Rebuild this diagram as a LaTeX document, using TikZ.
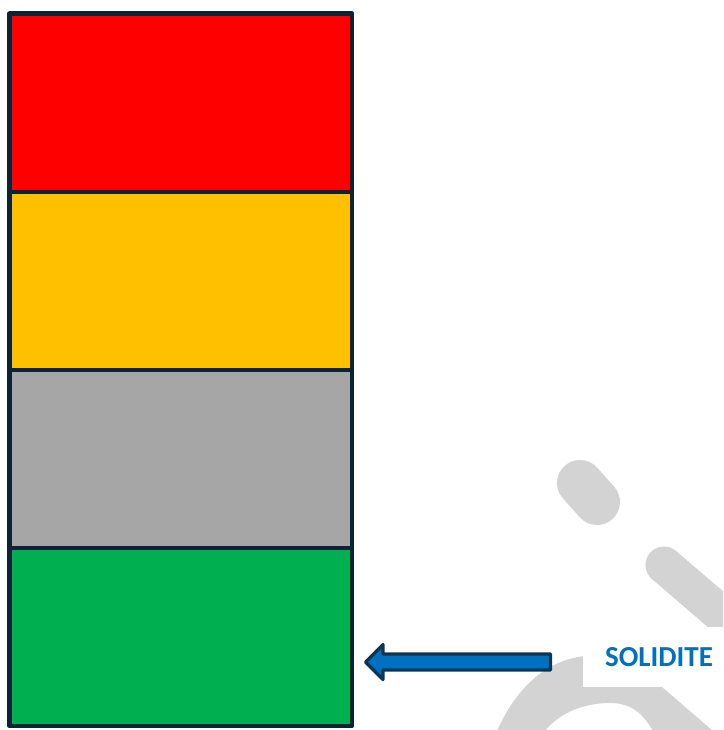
\documentclass[tikz,border=0pt]{standalone}
\usepackage{fontspec}
\newfontfamily\carlito{Carlito}
\definecolor{boxred}{HTML}{FF0000}
\definecolor{boxorange}{HTML}{FFC000}
\definecolor{boxgray}{HTML}{A6A6A6}
\definecolor{boxgreen}{HTML}{00B050}
\definecolor{edgenavy}{HTML}{0C2235}
\definecolor{arrowblue}{HTML}{0070C0}
\definecolor{arrowedge}{HTML}{0B3552}
\definecolor{wmgray}{HTML}{D3D3D3}
\begin{document}
\begin{tikzpicture}[x=1pt,y=-1pt,
  levelbox/.style={draw=edgenavy,line width=4.6pt,line join=round,minimum width=342.5pt,minimum height=178pt,inner sep=0pt,anchor=north west},
  wm/.style={fill=wmgray,draw=none},
  label/.style={font=\carlito\bfseries\fontsize{29}{29}\selectfont,text=arrowblue,inner sep=0pt}]
\useasboundingbox (0,0) rectangle (723,730);
% watermark background
\begin{scope}
  \clip (0,0) rectangle (723,730);
  \draw[wmgray,line width=46pt,line cap=round] (580,483) -- (597,502);
  \draw[wmgray,line width=37pt,line cap=round] (664,565) -- (770,656);
  \fill[wm] (497,731) .. controls (515,690) and (545,660) .. (585,656)
     .. controls (615,654) and (640,665) .. (662,687) -- (713,731) -- (653,731)
     .. controls (642,712) and (630,703) .. (610,703)
     .. controls (585,703) and (560,712) .. (545,731) -- cycle;
  \fill[white] (583,627) rectangle (730,687);
\end{scope}
% stacked boxes
\node[levelbox,fill=boxred]    (red)    at (7.25,11.5)  {};
\node[levelbox,fill=boxorange] (orange) at (7.25,189.5) {};
\node[levelbox,fill=boxgray]   (grey)   at (7.25,367.5) {};
\node[levelbox,fill=boxgreen]  (green)  at (7.25,545.5) {};
% label
\node[label] (sol) at (659,657) {SOLIDITE};
% block arrow pointing to the green box
\coordinate (tip) at (365.5,662);
\filldraw[fill=arrowblue,draw=arrowedge,line width=3.2pt,line join=round]
  (tip) -- (383,644.5) -- (383,654) -- (550.5,654) -- (550.5,670)
  -- (383,670) -- (383,679.5) -- cycle;
\end{tikzpicture}
\end{document}
